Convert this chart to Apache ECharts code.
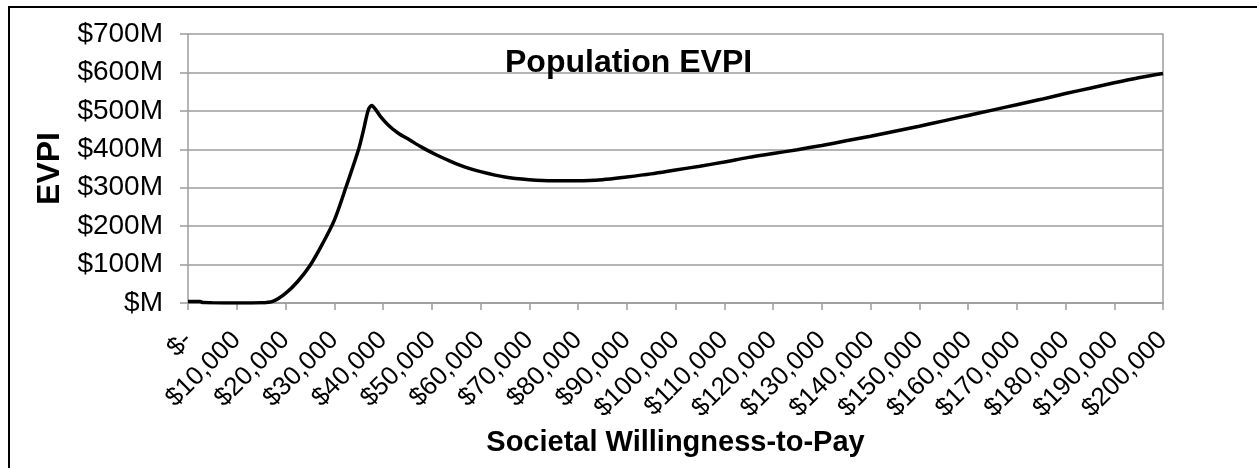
<!DOCTYPE html>
<html>
<head>
<meta charset="utf-8">
<script src="https://cdn.jsdelivr.net/npm/echarts@6/dist/echarts.min.js"></script>
<style>
  html, body { margin: 0; padding: 0; background: #fff; }
  #chart { width: 1257px; height: 468px; }
</style>
</head>
<body>
<div id="chart"></div>
<script>
// Societal willingness-to-pay ($) and population EVPI ($M)
const wtp = [0, 2500, 3000, 5000, 10000, 15000, 17500, 20000, 22500, 25000, 27500, 30000,
  32500, 35000, 36000, 37000, 37700, 38500, 39500, 41000, 43000, 45500, 48000, 51000,
  54000, 57000, 60000, 65000, 70000, 75000, 80000, 85000, 90000, 95000, 100000, 105000,
  110000, 115000, 120000, 125000, 130000, 135000, 140000, 145000, 150000, 155000, 160000,
  165000, 170000, 175000, 180000, 185000, 190000, 195000, 200000];
const evpi = [4, 4, 1, 0.5, 0, 0.5, 5, 25, 56, 97, 152, 215,
  305, 400, 450, 503, 514, 503, 485, 464, 443, 424, 405, 385,
  368, 353, 342, 328, 321, 318, 318, 321, 328, 336, 346, 356,
  367, 379, 389, 399, 410, 422, 434, 447, 460, 474, 488,
  502, 516, 530, 545, 559, 573, 586, 597];

const xTicks = { min: 0, max: 200000, interval: 10000 };
const yTicks = { min: 0, max: 700, interval: 100 };

const font = '"Liberation Sans", Arial, sans-serif';
const gridColor = '#9c9c9c';

const chart = echarts.init(document.getElementById('chart'));

chart.setOption({
  animation: false,
  backgroundColor: '#fff',
  textStyle: { fontFamily: font },
  graphic: [{
    type: 'rect',
    shape: { x: 9, y: 7, width: 1270, height: 480 },
    style: { fill: 'none', stroke: '#000', lineWidth: 2 },
    silent: true
  }],
  title: {
    text: 'Population EVPI',
    left: 500,
    top: 42,
    textStyle: { fontFamily: font, fontSize: 32, fontWeight: 'bold', color: '#000' }
  },
  grid: { left: 188, right: 94, top: 34, bottom: 165 },
  xAxis: {
    type: 'value',
    min: xTicks.min,
    max: xTicks.max,
    interval: xTicks.interval,
    name: 'Societal Willingness-to-Pay',
    nameLocation: 'middle',
    nameGap: 122,
    nameTextStyle: { fontFamily: font, fontSize: 29, fontWeight: 'bold', color: '#000' },
    axisLine: { show: true, lineStyle: { color: gridColor, width: 1.5 } },
    axisTick: { show: true, length: 7, lineStyle: { color: gridColor, width: 1.5 } },
    splitLine: { show: false },
    axisLabel: {
      rotate: 45,
      margin: 33,
      fontFamily: font,
      fontSize: 26,
      color: '#000',
      formatter: v => v === 0 ? '$-' : '$' + v.toLocaleString('en-US')
    }
  },
  yAxis: [{
    type: 'value',
    min: yTicks.min,
    max: yTicks.max,
    interval: yTicks.interval,
    name: 'EVPI',
    nameLocation: 'middle',
    nameGap: 121,
    nameTextStyle: { fontFamily: font, fontSize: 32, fontWeight: 'bold', color: '#000' },
    axisLine: { show: true, lineStyle: { color: gridColor, width: 1.5 } },
    axisTick: { show: true, length: 8, lineStyle: { color: gridColor, width: 1.5 } },
    splitLine: { show: true, lineStyle: { color: gridColor, width: 1.5 } },
    axisLabel: {
      margin: 25,
      fontFamily: font,
      fontSize: 28,
      color: '#000',
      formatter: v => v === 0 ? '$M' : '$' + v + 'M'
    }
  }, {
    type: 'value',
    position: 'right',
    min: yTicks.min,
    max: yTicks.max,
    interval: yTicks.interval,
    axisLine: { show: true, lineStyle: { color: gridColor, width: 1.5 } },
    axisTick: { show: false },
    axisLabel: { show: false },
    splitLine: { show: false }
  }],
  series: [{
    type: 'line',
    data: wtp.map((x, i) => [x, evpi[i]]),
    smooth: 0.3,
    symbol: 'none',
    lineStyle: { color: '#000', width: 3.5 }
  }]
});
</script>
</body>
</html>
